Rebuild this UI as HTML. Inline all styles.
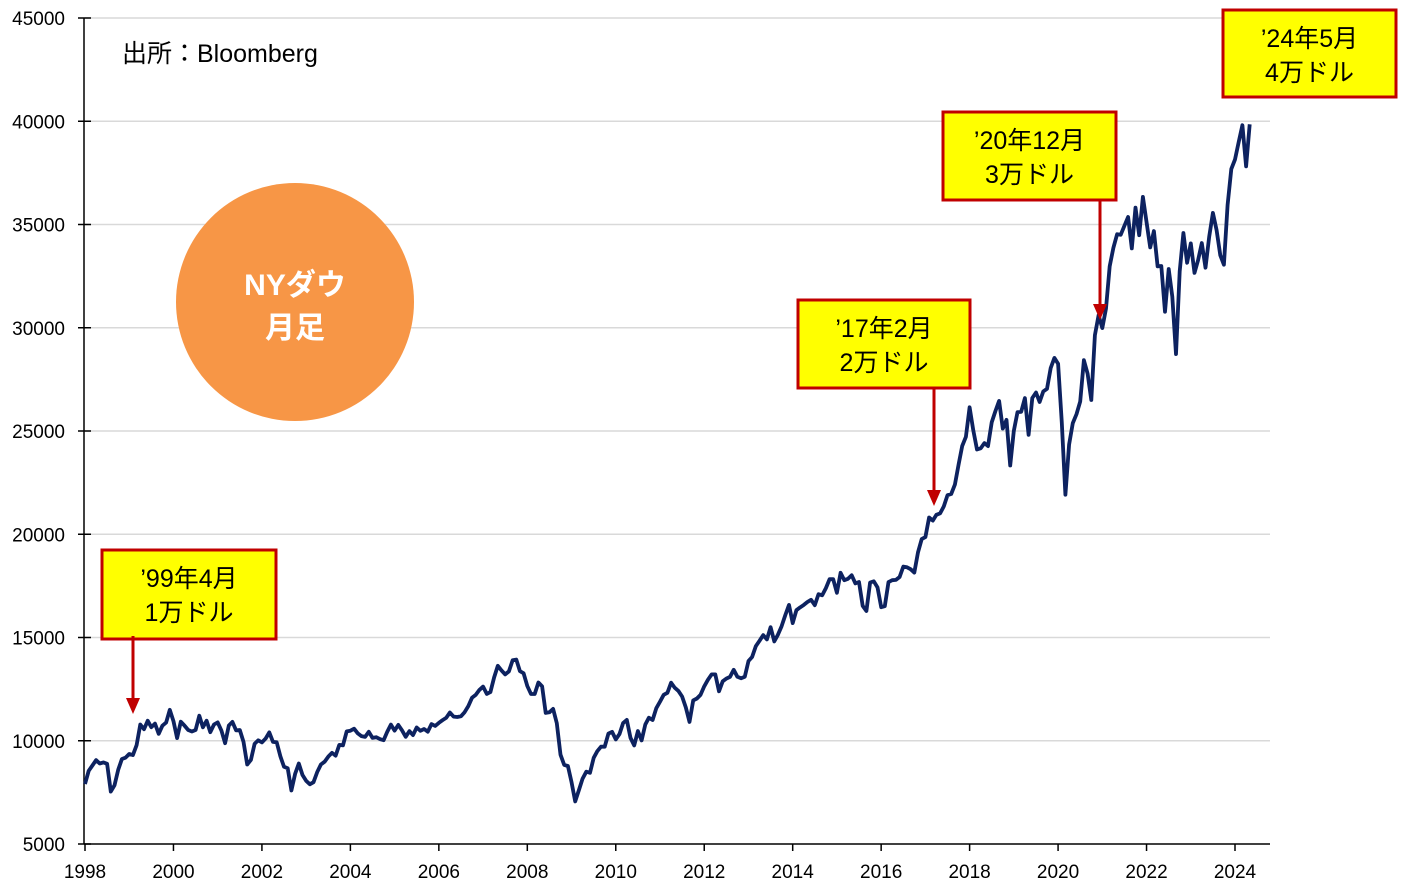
<!DOCTYPE html>
<html><head><meta charset="utf-8"><style>
body{margin:0;background:#fff;}
svg{display:block;font-family:"Liberation Sans","Noto Sans CJK JP",sans-serif;}
</style></head><body>
<svg id="chart" width="1427" height="889" viewBox="0 0 1427 889">
<g id="grid"></g>
<g id="axes"></g>
<text x="122" y="62" font-size="25" fill="#000">出所：Bloomberg</text>
<g>
<circle cx="295" cy="302" r="119" fill="#f79646"/>
<text x="295" y="295" font-size="30" font-weight="bold" fill="#fff" text-anchor="middle">NYダウ</text>
<text x="295" y="338" font-size="30" font-weight="bold" fill="#fff" text-anchor="middle">月足</text>
</g>
<path id="line" fill="none" stroke="#0d2260" stroke-width="3.8" stroke-linejoin="round"/>
<g id="notes"></g>
</svg>
<script>
const startYear = 1998;
const values = [
7907,8546,8800,9063,8900,8952,8883,7539,7843,8592,9117,9181,
9359,9307,9786,10789,10560,10971,10655,10829,10337,10730,10878,11497,
10941,10128,10922,10734,10522,10448,10522,11215,10651,10971,10415,10787,
10887,10495,9879,10735,10912,10502,10523,9950,8848,9075,9852,10022,
9920,10106,10404,9946,9925,9243,8737,8664,7592,8397,8896,8342,
8054,7891,7992,8480,8850,8985,9234,9416,9275,9801,9782,10454,
10488,10584,10358,10226,10188,10435,10140,10174,10080,10027,10428,10783,
10490,10766,10504,10193,10467,10275,10641,10482,10569,10440,10806,10718,
10865,10993,11109,11367,11168,11150,11186,11381,11679,12081,12222,12463,
12622,12269,12354,13063,13628,13409,13212,13358,13896,13930,13372,13265,
12650,12266,12263,12820,12638,11350,11378,11544,10851,9325,8829,8776,
8001,7063,7609,8168,8500,8447,9172,9496,9712,9713,10345,10428,
10067,10325,10857,11009,10137,9774,10466,10015,10788,11118,11006,11578,
11892,12226,12320,12811,12570,12414,12143,11614,10913,11955,12046,12218,
12633,12952,13212,13214,12393,12880,13009,13091,13437,13096,13026,13104,
13861,14054,14579,14840,15116,14910,15500,14810,15130,15546,16086,16577,
15699,16322,16458,16581,16717,16827,16563,17098,17043,17391,17828,17823,
17165,18133,17776,17841,18011,17620,17690,16528,16285,17664,17720,17425,
16466,16517,17685,17774,17787,17930,18432,18401,18308,18142,19124,19763,
19864,20812,20663,20941,21009,21350,21891,21948,22405,23377,24272,24719,
26149,25029,24103,24163,24416,24271,25415,25965,26458,25116,25538,23327,
24999,25916,25929,26593,24815,26600,26864,26403,26917,27046,28051,28538,
28256,25409,21917,24346,25383,25813,26428,28430,27782,26502,29639,30606,
29983,30932,32982,33875,34529,34503,34935,35361,33844,35820,34484,36338,
35132,33893,34678,32977,32990,30775,32845,31510,28726,32733,34590,33147,
34086,32657,33274,34098,32908,34408,35560,34722,33508,33053,35951,37690,
38150,38996,39807,37816,39850];
const yTicks = [5000,10000,15000,20000,25000,30000,35000,40000,45000];
const xTicks = [1998,2000,2002,2004,2006,2008,2010,2012,2014,2016,2018,2020,2022,2024];
const noteLines1 = ["’99年4月","’17年2月","’20年12月","’24年5月"];
const noteLines2 = ["1万ドル","2万ドル","3万ドル","4万ドル"];

const NS="http://www.w3.org/2000/svg";
const X0=85,X1=1270,Y0=844,YT=18;
const xs=t=>X0+(t-startYear)*(1235-85)/26;
const xi=i=>xs(startYear+i/12);
const ys=v=>Y0-(v-5000)*(Y0-YT)/40000;
function mk(tag,attrs,parent){const e=document.createElementNS(NS,tag);for(const k in attrs)e.setAttribute(k,attrs[k]);parent.appendChild(e);return e;}
const grid=document.getElementById('grid'),axes=document.getElementById('axes');
yTicks.forEach(v=>{
  if(v>5000){const l=mk('line',{x1:X0,x2:X1,y1:ys(v),y2:ys(v),stroke:'#d9d9d9','stroke-width':1.5},grid);
  
  }
  mk('line',{x1:78,x2:91,y1:ys(v),y2:ys(v),stroke:'#000','stroke-width':1.5},axes);
  const t=mk('text',{x:65,y:ys(v)+7,'font-size':19,'text-anchor':'end'},axes);t.textContent=v;
  
  
});
mk('line',{x1:84,x2:84,y1:YT,y2:Y0,stroke:'#000','stroke-width':1.5},axes);
mk('line',{x1:84,x2:X1,y1:Y0,y2:Y0,stroke:'#000','stroke-width':1.5},axes);
xTicks.forEach(y=>{
  mk('line',{x1:xs(y),x2:xs(y),y1:Y0,y2:Y0+7,stroke:'#000','stroke-width':1.5},axes);
  const t=mk('text',{x:xs(y),y:878,'font-size':19,'text-anchor':'middle'},axes);t.textContent=y;
  
  
});
document.getElementById('line').setAttribute('d',values.map((v,i)=>(i?'L':'M')+xi(i).toFixed(1)+','+ys(v).toFixed(1)).join(''));
const notes=document.getElementById('notes');
const boxes=[[102,550,174,89,133,636,712],[798,300,172,88,934,387,504],[943,112,173,88,1100,200,318],[1223,10,173,87,null]];
boxes.forEach((b,k)=>{
  const g=mk('g',{},notes);
  
  
  mk('rect',{x:b[0],y:b[1],width:b[2],height:b[3],fill:'#ffff00',stroke:'#c00000','stroke-width':3},g);
  const cx=b[0]+b[2]/2;
  mk('text',{x:cx,y:b[1]+37,'font-size':25,'text-anchor':'middle'},g).textContent=noteLines1[k];
  mk('text',{x:cx,y:b[1]+71,'font-size':25,'text-anchor':'middle'},g).textContent=noteLines2[k];
  if(b[4]!==null){
    const ax=b[4];
    mk('line',{x1:ax,x2:ax,y1:b[5],y2:b[6]-12,stroke:'#c00000','stroke-width':3},g);
    mk('polygon',{points:`${ax-7},${b[6]-14} ${ax+7},${b[6]-14} ${ax},${b[6]+2}`,fill:'#c00000'},g);
  }
});
</script>
</body></html>
